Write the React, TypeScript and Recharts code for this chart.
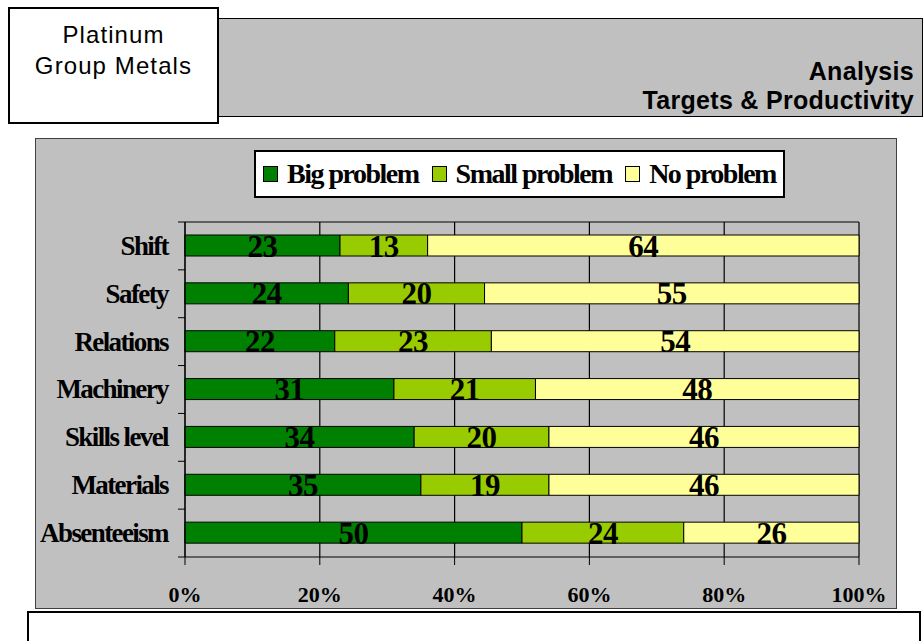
import { BarChart, Bar, XAxis, YAxis, CartesianGrid, LabelList } from 'recharts';

const categories = ['Shift', 'Safety', 'Relations', 'Machinery', 'Skills level', 'Materials', 'Absenteeism'];
const bigProblem = [23, 24, 22, 31, 34, 35, 50];
const smallProblem = [13, 20, 23, 21, 20, 19, 24];
const noProblem = [64, 55, 54, 48, 46, 46, 26];
const percentTicks = [0, 0.2, 0.4, 0.6, 0.8, 1];

const SERIF = '"Liberation Serif", "Times New Roman", serif';
const SANS = '"Liberation Sans", Arial, sans-serif';
const GRAY = '#c0c0c0';
const BAND = 335 / categories.length;

const legendItems = [
  { name: 'Big problem', color: '#008000' },
  { name: 'Small problem', color: '#99cc00' },
  { name: 'No problem', color: '#ffff99' },
];

const CategoryTick = (props: any) => {
  const { x, y, payload, index } = props;
  return (
    <g>
      <text
        x={x}
        y={y}
        dy="0.33em"
        textAnchor="end"
        fill="#000"
        style={{ fontFamily: SERIF, fontWeight: 'bold', fontSize: 27, letterSpacing: -1.6 }}
      >
        {payload.value}
      </text>
      <line x1={x + 10} x2={x + 17} y1={y - BAND / 2} y2={y - BAND / 2} stroke="#000" />
      {index === categories.length - 1 && (
        <line x1={x + 10} x2={x + 17} y1={y + BAND / 2} y2={y + BAND / 2} stroke="#000" />
      )}
    </g>
  );
};

const labelStyle = { fontFamily: SERIF, fontWeight: 'bold' as const, fontSize: 31, letterSpacing: -0.5, fill: '#000' };

export default function App() {
  const data = categories.map((name, i) => ({
    name,
    big: bigProblem[i],
    small: smallProblem[i],
    none: noProblem[i],
  }));

  return (
    <div style={{ position: 'absolute', left: 0, top: 0, width: 923, height: 641, overflow: 'hidden', background: '#fff' }}>
      {/* header bar */}
      <div
        style={{
          position: 'absolute', left: 218, top: 18, width: 703, height: 97,
          background: GRAY, border: '1px solid #000',
        }}
      >
        <div
          style={{
            position: 'absolute', right: 8, top: 38, textAlign: 'right', whiteSpace: 'nowrap',
            fontFamily: SANS, fontWeight: 'bold', fontSize: 25, lineHeight: '29px', letterSpacing: 0.3, color: '#000',
          }}
        >
          <div>Analysis</div>
          <div>Targets &amp; Productivity</div>
        </div>
      </div>

      {/* title box */}
      <div
        style={{
          position: 'absolute', left: 8, top: 7, width: 211, height: 117, boxSizing: 'border-box',
          background: '#fff', border: '2px solid #000', textAlign: 'center',
          fontFamily: SANS, fontSize: 24, lineHeight: '31px', letterSpacing: 1.1, paddingTop: 10,
        }}
      >
        <div>Platinum</div>
        <div>Group Metals</div>
      </div>

      {/* chart panel */}
      <div
        style={{
          position: 'absolute', left: 35, top: 138, width: 860, height: 469,
          background: GRAY, border: '1px solid #404040',
        }}
      >
        <BarChart
          width={860}
          height={469}
          data={data}
          layout="vertical"
          stackOffset="expand"
          barSize={21}
          margin={{ top: 83, right: 37, left: 0, bottom: 0 }}
        >
          <CartesianGrid vertical horizontal horizontalPoints={[83]} stroke="#000" strokeWidth={1.2} />
          <XAxis
            type="number"
            domain={[0, 1]}
            ticks={percentTicks}
            height={51}
            tickSize={8}
            tickMargin={21}
            axisLine={{ stroke: '#000' }}
            tickLine={{ stroke: '#000' }}
            tickFormatter={(v: number) => `${Math.round(v * 100)}%`}
            tick={{ fill: '#000', fontFamily: SERIF, fontWeight: 'bold', fontSize: 22 }}
          />
          <YAxis
            type="category"
            dataKey="name"
            width={149}
            interval={0}
            tickSize={7}
            tickMargin={10}
            tickLine={false}
            axisLine={{ stroke: '#000' }}
            tick={<CategoryTick />}
          />
          <Bar dataKey="big" stackId="a" fill="#008000" stroke="#000" strokeWidth={1} isAnimationActive={false}>
            <LabelList dataKey="big" position="center" style={labelStyle} />
          </Bar>
          <Bar dataKey="small" stackId="a" fill="#99cc00" stroke="#000" strokeWidth={1} isAnimationActive={false}>
            <LabelList dataKey="small" position="center" style={labelStyle} />
          </Bar>
          <Bar dataKey="none" stackId="a" fill="#ffff99" stroke="#000" strokeWidth={1} isAnimationActive={false}>
            <LabelList dataKey="none" position="center" style={labelStyle} />
          </Bar>
        </BarChart>
      </div>

      {/* legend */}
      <div
        style={{
          position: 'absolute', left: 254, top: 150, width: 531, height: 48, boxSizing: 'border-box',
          background: '#fff', border: '2px solid #000', display: 'flex', alignItems: 'center', paddingLeft: 7,
          fontFamily: SERIF, fontWeight: 'bold', fontSize: 28, letterSpacing: -1.5, color: '#000',
        }}
      >
        {legendItems.map((item, i) => (
          <div key={item.name} style={{ display: 'flex', alignItems: 'center', marginLeft: i === 0 ? 0 : 13 }}>
            <span
              style={{
                display: 'inline-block', width: 13, height: 14, background: item.color,
                border: '1px solid #000', marginRight: 9,
              }}
            />
            <span style={{ whiteSpace: 'nowrap' }}>{item.name}</span>
          </div>
        ))}
      </div>

      {/* bottom notes box */}
      <div
        style={{
          position: 'absolute', left: 27, top: 611, width: 890, height: 60,
          background: '#fff', border: '2px solid #000',
        }}
      />
    </div>
  );
}
